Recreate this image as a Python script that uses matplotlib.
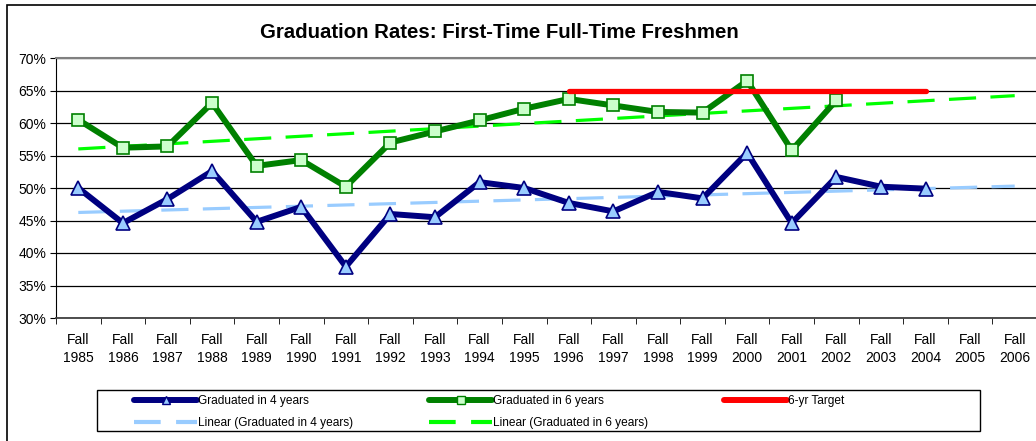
import numpy as np
import matplotlib
matplotlib.use("Agg")
import matplotlib.pyplot as plt
from matplotlib.patches import Rectangle
from matplotlib.lines import Line2D

plt.rcParams['font.family'] = ['Liberation Sans', 'DejaVu Sans']

years = list(range(1985, 2007))
tick_labels = [f"Fall\n{y}" for y in years]
grad4 = [50.0, 44.6, 48.3, 52.6, 44.8, 47.1, 37.9, 46.0, 45.5, 50.9,
         50.0, 47.7, 46.4, 49.4, 48.4, 55.4, 44.6, 51.7, 50.2, 49.9]
grad6 = [60.5, 56.2, 56.4, 63.1, 53.4, 54.3, 50.2, 57.0, 58.7, 60.4,
         62.2, 63.7, 62.7, 61.7, 61.6, 66.5, 55.8, 63.5]
target_years = list(range(1996, 2005))
target_value = 65.0

fig = plt.figure(figsize=(10.36, 4.41), dpi=100)

# chart area border
fig.patches.append(Rectangle((7/1036, -0.1), 1.2, 1.1 - 5/441,
                             transform=fig.transFigure, fill=False,
                             edgecolor='black', linewidth=1.2))

ax = fig.add_axes([56/1036, 1-318/441, 981/1036, 260/441])
x = np.arange(len(years))

# trend lines (least-squares fit over the observed years, extended to 2006)
x4 = np.arange(len(grad4))
x6 = np.arange(len(grad6))
p4 = np.polyfit(x4, np.array(grad4)/100, 1)
p6 = np.polyfit(x6, np.array(grad6)/100, 1)
xt = np.arange(len(years))

ax.plot(xt, np.polyval(p4, xt), color='#99CCFF', lw=2.3, dashes=(8.5, 4.5), zorder=3)
ax.plot(xt, np.polyval(p6, xt), color='#00FF00', lw=2.3, dashes=(8.5, 4.5), zorder=3)

ax.plot(x4, np.array(grad4)/100, color='#000080', lw=4.3, marker='^', ms=10,
        mfc='#99CCFF', mec='#000080', mew=1.2, zorder=5, solid_joinstyle='miter')
ax.plot(x6, np.array(grad6)/100, color='#008000', lw=4.3, marker='s', ms=9,
        mfc='#CCFFCC', mec='#008000', mew=1.2, zorder=4, solid_joinstyle='miter')
ti = [years.index(y) for y in target_years]
ax.plot(ti, [target_value/100]*len(ti), color='#FF0000', lw=3.8,
        solid_capstyle='round', zorder=4)

ax.set_xlim(-0.5, len(years) - 0.5)
ax.set_ylim(0.30, 0.70)
yt = np.arange(0.30, 0.701, 0.05)
ax.set_yticks(yt)
ax.set_yticklabels([f"{int(round(v*100))}%" for v in yt], fontsize=10)
ax.set_xticks(x)
ax.set_xticklabels(tick_labels, fontsize=10, linespacing=1.35)
ax.set_xticks(np.arange(-0.5, len(years)), minor=True)
ax.tick_params(axis='x', which='major', length=0, pad=11)
ax.tick_params(axis='x', which='minor', length=4, direction='out', color='black')
ax.tick_params(axis='y', length=4, direction='out', pad=3)
ax.yaxis.grid(True, color='black', lw=0.9)
ax.set_axisbelow(True)
for s in ['top', 'right']:
    ax.spines[s].set_color('#808080')
    ax.spines[s].set_linewidth(1.5)
ax.spines['left'].set_color('black')
ax.spines['bottom'].set_color('#404040')
ax.spines['bottom'].set_linewidth(1.3)

fig.text(499/1036, 1-32/441, 'Graduation Rates: First-Time Full-Time Freshmen',
         ha='center', va='center', fontsize=14.7, fontweight='bold')

# legend frame
fig.patches.append(Rectangle((97/1036, 1-431/441), 883/1036, 41/441,
                             transform=fig.transFigure, fill=False,
                             edgecolor='black', linewidth=1.0, zorder=1))

h4t = Line2D([], [], color='#99CCFF', lw=3, dashes=(6.4, 3.7))
h6t = Line2D([], [], color='#00FF00', lw=3, dashes=(6.4, 3.7))
h4 = Line2D([], [], color='#000080', lw=4.3, marker='^', ms=6, mfc='#99CCFF', mec='#000080',
            solid_capstyle='round')
h6 = Line2D([], [], color='#008000', lw=4.3, marker='s', ms=6, mfc='#CCFFCC', mec='#008000',
            solid_capstyle='round')
htg = Line2D([], [], color='#FF0000', lw=4.3, solid_capstyle='round')
leg = fig.legend([h4, h4t, h6, h6t, htg],
                 ['Graduated in 4 years', 'Linear (Graduated in 4 years)',
                  'Graduated in 6 years', 'Linear (Graduated in 6 years)', '6-yr Target'],
                 ncol=3, loc='upper left',
                 bbox_to_anchor=(134/1036, 1-395/441),
                 fontsize=8.6, frameon=False, handlelength=5.3, handletextpad=0.1,
                 borderpad=0, labelspacing=0.85, borderaxespad=0, columnspacing=6.3)

fig.savefig('out.png', dpi=100)
